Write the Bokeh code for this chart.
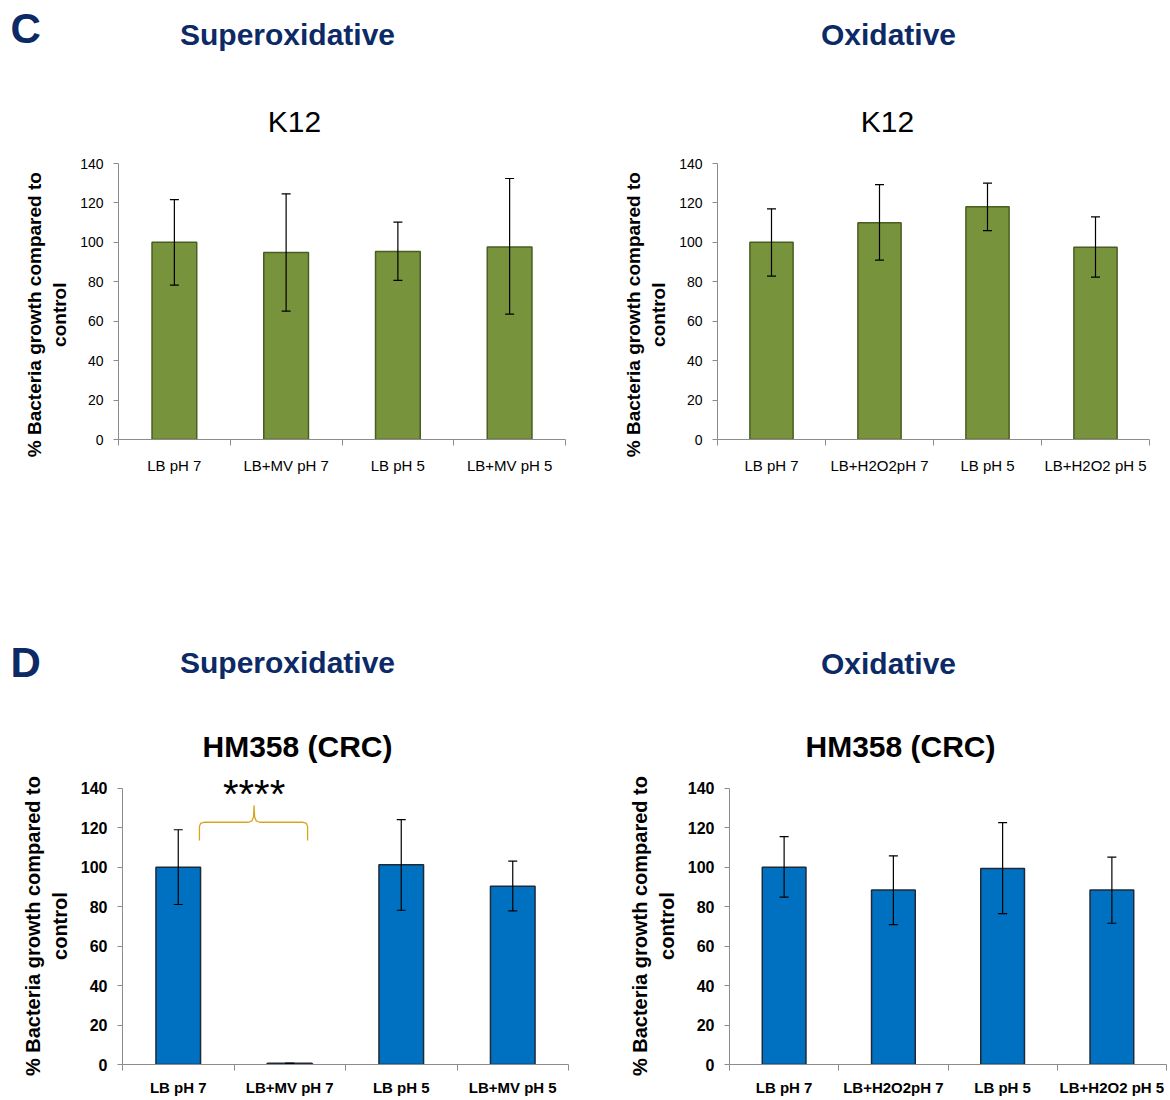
from bokeh.plotting import figure
from bokeh.models import Range1d, FixedTicker, ColumnDataSource, Whisker, TeeHead, Label
from bokeh.layouts import column, row
from bokeh.core.properties import value
from bokeh.embed import file_html
from bokeh.resources import INLINE

# ---------------- data ----------------
k12_super_labels = ["LB pH 7", "LB+MV pH 7", "LB pH 5", "LB+MV pH 5"]
k12_super_values = [100, 94.8, 95.4, 97.6]
k12_super_lower = [78.3, 65.1, 80.7, 63.6]
k12_super_upper = [121.7, 124.6, 110.3, 132.4]

k12_ox_labels = ["LB pH 7", "LB+H2O2pH 7", "LB pH 5", "LB+H2O2 pH 5"]
k12_ox_values = [100, 110, 118, 97.5]
k12_ox_lower = [82.9, 91, 106, 82.4]
k12_ox_upper = [117, 129.3, 130, 112.9]

hm_super_labels = ["LB pH 7", "LB+MV pH 7", "LB pH 5", "LB+MV pH 5"]
hm_super_values = [100, 0.6, 101.2, 90.4]
hm_super_lower = [81.1, 0.6, 78.2, 77.9]
hm_super_upper = [119, 0.6, 124.1, 103.1]

hm_ox_labels = ["LB pH 7", "LB+H2O2pH 7", "LB pH 5", "LB+H2O2 pH 5"]
hm_ox_values = [100, 88.5, 99.4, 88.5]
hm_ox_lower = [84.8, 70.9, 76.5, 71.6]
hm_ox_upper = [115.5, 105.8, 122.6, 105.1]

y_ticks = [0, 20, 40, 60, 80, 100, 120, 140]
y_label_line1 = "% Bacteria growth compared to"
y_label_line2 = "control"

FONT = "Liberation Sans"
NAVY = "#0B2A66"
GREEN = "#77933C"
GREEN_LINE = "#4A5D23"
BLUE = "#0070C0"
BLUE_LINE = "#1E2A3A"
AXIS = "#8C8C8C"
TOTAL_W = 1168
NBSP = "\u00a0"


def header(h, top, items):
    p = figure(width=TOTAL_W, height=h, x_range=Range1d(0, TOTAL_W), y_range=Range1d(top + h, top),
               x_axis_type=None, y_axis_type=None, toolbar_location=None, output_backend="svg",
               min_border=0)
    p.outline_line_color = None
    p.grid.visible = False
    for (x, y, t, size, align, style, color) in items:
        p.text(x=[x], y=[y], text=[t], text_font=value(FONT), text_font_style=style,
               text_font_size=size, text_color=color, text_baseline="middle", text_align=align)
    return p


def panel(labels, values, lower, upper, bold, fill, line, width, height,
          b_left, b_right, b_top, b_bottom, y_end, pad):
    n = len(labels)
    xs = [i + 0.5 for i in range(n)]
    p = figure(width=width, height=height, x_range=Range1d(0, n), y_range=Range1d(0, y_end),
               toolbar_location=None, output_backend="svg",
               min_border_left=b_left, min_border_right=b_right,
               min_border_top=b_top, min_border_bottom=b_bottom)
    p.outline_line_color = None
    p.grid.visible = False
    src = ColumnDataSource(dict(x=xs, top=values, lower=lower, upper=upper))
    p.vbar(x="x", top="top", width=0.4, bottom=0, source=src, fill_color=fill,
           line_color=line, line_width=1.5)
    w = Whisker(source=src, base="x", upper="upper", lower="lower", dimension="height",
                line_color="black", line_width=1.2, level="annotation",
                upper_head=TeeHead(size=9, line_color="black", line_width=1.2),
                lower_head=TeeHead(size=9, line_color="black", line_width=1.2))
    p.add_layout(w)

    tstyle = "bold" if bold else "normal"

    xa = p.xaxis[0]
    xa.ticker = FixedTicker(ticks=xs, minor_ticks=list(range(n + 1)))
    xa.major_label_overrides = {x: lab for x, lab in zip(xs, labels)}
    xa.major_tick_out = 0
    xa.major_tick_in = 0
    xa.minor_tick_out = 6
    xa.minor_tick_in = 0
    xa.minor_tick_line_color = AXIS
    xa.axis_line_color = AXIS
    xa.major_label_text_font = FONT
    xa.major_label_text_font_style = tstyle
    xa.major_label_text_color = "black"

    ya = p.yaxis[0]
    ya.ticker = FixedTicker(ticks=y_ticks, minor_ticks=[])
    ya.bounds = (0, 140)
    ya.major_tick_out = 5
    ya.major_tick_in = 0
    ya.major_tick_line_color = AXIS
    ya.axis_line_color = AXIS
    ya.major_label_text_font = FONT
    ya.major_label_text_font_style = tstyle
    ya.major_label_text_color = "black"
    ya.major_label_standoff = 10
    ya.axis_label = y_label_line1 + NBSP * pad + "\n" + y_label_line2 + NBSP * pad
    ya.axis_label_text_font = FONT
    ya.axis_label_text_font_style = "bold"
    ya.axis_label_text_color = "black"
    ya.axis_label_standoff = 7
    return p


top_h = 485
bot_h = 333

p1 = panel(k12_super_labels, k12_super_values, k12_super_lower, k12_super_upper, False,
           GREEN, GREEN_LINE, 585, top_h, 118, 20, 23, 186, 140, 5)
p2 = panel(k12_ox_labels, k12_ox_values, k12_ox_lower, k12_ox_upper, False,
           GREEN, GREEN_LINE, 583, top_h, 132, 19, 23, 186, 140, 5)
p3 = panel(hm_super_labels, hm_super_values, hm_super_lower, hm_super_upper, True,
           BLUE, BLUE_LINE, 585, bot_h, 122, 17, 11, 34, 146, 2)
p4 = panel(hm_ox_labels, hm_ox_values, hm_ox_lower, hm_ox_upper, True,
           BLUE, BLUE_LINE, 583, bot_h, 144, 2, 11, 34, 146, 2)

for p in (p1, p2):
    p.xaxis.major_label_text_font_size = "15px"
    p.xaxis.major_label_standoff = 11
    p.yaxis.major_label_text_font_size = "14px"
    p.yaxis.axis_label_text_font_size = "19px"
for p in (p3, p4):
    p.xaxis.major_label_text_font_size = "15px"
    p.xaxis.major_label_standoff = 8
    p.yaxis.major_label_text_font_size = "16px"
    p.yaxis.axis_label_text_font_size = "20px"

# significance bracket between LB pH 7 and LB+MV pH 7
bx = [0.69, 0.69, 0.70, 0.73, 1.13, 1.16, 1.175, 1.18, 1.185, 1.20, 1.23, 1.62, 1.65, 1.66, 1.66]
by = [113.6, 120.6, 122.2, 122.8, 122.8, 123.5, 125.5, 131.4, 125.5, 123.5, 122.8, 122.8, 122.2, 120.6, 113.6]
p3.line(bx, by, line_color="#D9A520", line_width=1.3)
p3.add_layout(Label(x=1.18, y=137, text="****", text_font=FONT, text_font_size="40px",
                    text_color="black", text_align="center", text_baseline="middle"))

h1 = header(140, 0, [(10, 28, "C", "42px", "left", "bold", NAVY),
                     (287, 34, "Superoxidative", "30px", "center", "bold", NAVY),
                     (888, 34, "Oxidative", "30px", "center", "bold", NAVY),
                     (294, 121, "K12", "30px", "center", "normal", "black"),
                     (887, 121, "K12", "30px", "center", "normal", "black")])
h2 = header(140, 625, [(10, 662, "D", "42px", "left", "bold", NAVY),
                       (287, 662, "Superoxidative", "30px", "center", "bold", NAVY),
                       (888, 663, "Oxidative", "30px", "center", "bold", NAVY),
                       (297, 746, "HM358 (CRC)", "30px", "center", "bold", "black"),
                       (900, 746, "HM358 (CRC)", "30px", "center", "bold", "black")])

layout = column(h1, row(p1, p2), h2, row(p3, p4))
open("out.html", "w").write(file_html(layout, INLINE))
